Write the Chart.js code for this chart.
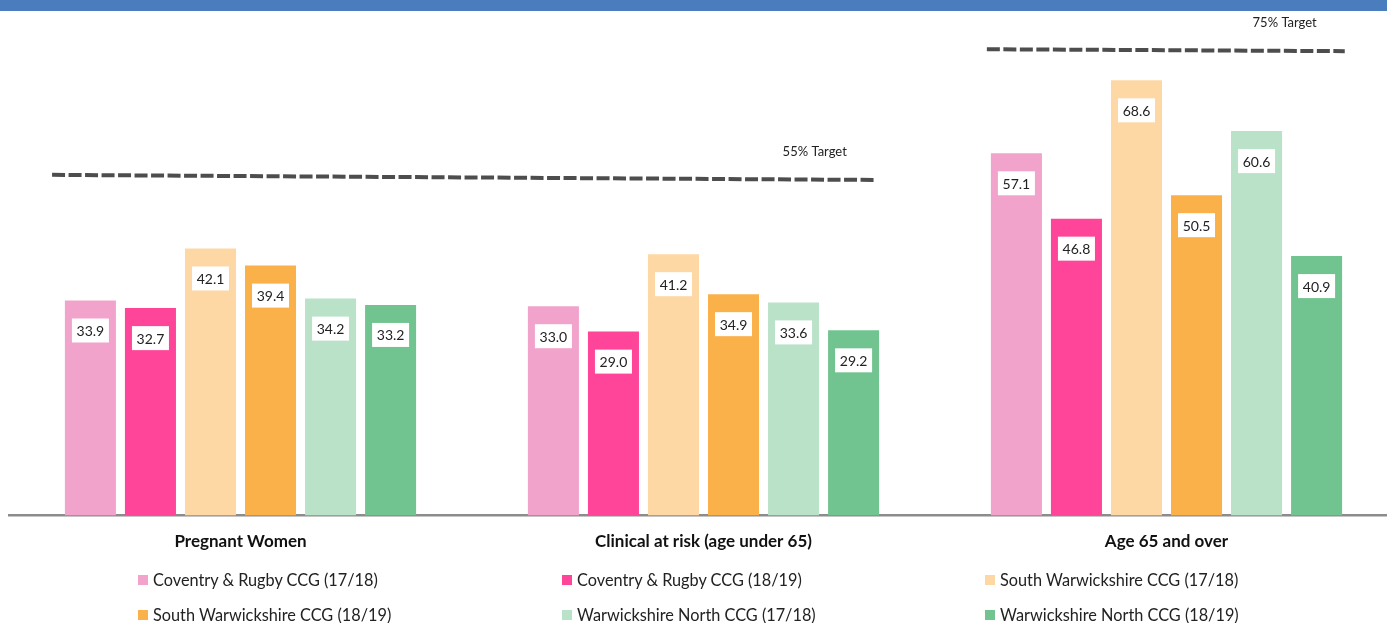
<html>
<head>
  <title>Flu vaccination uptake</title>
  <script src="https://cdn.jsdelivr.net/npm/chart.js"></script>
  <style>
    body { margin: 0; background: #fff; font-family: Lato, Arial; overflow: hidden; width: 1387px; height: 623px; position: relative; }
    #topbar { position: absolute; left: 0; top: 0; width: 1387px; height: 11px; background: #497dbe; }
    #wrap { position: absolute; left: 0; top: 0; width: 1398px; height: 568px; }
    #legend { position: absolute; left: 138px; top: 562px; display: grid; grid-template-columns: 424px 423px 400px; grid-auto-rows: 35px; }
    .item { display: flex; align-items: center; font-size: 16.3px; color: #222; white-space: nowrap; }
    .box { width: 10px; height: 10px; margin-right: 5px; }
  </style>
</head>
<body>
  <div id="wrap"><canvas id="Chart"></canvas></div>
  <div id="topbar"></div>
  <div id="legend"></div>

  <script>
// categories and series
const categories = ['Pregnant Women', 'Clinical at risk (age under 65)', 'Age 65 and over'];
const seriesNames = [
  'Coventry & Rugby CCG (17/18)',
  'Coventry & Rugby CCG (18/19)',
  'South Warwickshire CCG (17/18)',
  'South Warwickshire CCG (18/19)',
  'Warwickshire North CCG (17/18)',
  'Warwickshire North CCG (18/19)'
];
const coventry1718 = [33.9, 33.0, 57.1];
const coventry1819 = [32.7, 29.0, 46.8];
const southWarks1718 = [42.1, 41.2, 68.6];
const southWarks1819 = [39.4, 34.9, 50.5];
const warksNorth1718 = [34.2, 33.6, 60.6];
const warksNorth1819 = [33.2, 29.2, 40.9];
const seriesColors = ['#f2a3cb', '#fe4599', '#fdd8a4', '#fbb14a', '#bae2c9', '#71c48f'];

// target lines as drawn (x in category index units, y in %)
const targetLabels = ['55% Target', '75% Target'];
const target55 = [{ x: -0.407, y: 53.7 }, { x: 1.370, y: 52.9 }];
const target75 = [{ x: 1.612, y: 73.5 }, { x: 2.385, y: 73.2 }];

const seriesValues = [coventry1718, coventry1819, southWarks1718, southWarks1819, warksNorth1718, warksNorth1819];

const data = {
  labels: categories,
  datasets: seriesValues.map((vals, i) => ({
    label: seriesNames[i],
    data: vals,
    backgroundColor: seriesColors[i],
    borderWidth: 0,
    categoryPercentage: 0.778,
    barPercentage: 0.85
  }))
};

// dashed target lines, placed through the chart's x and y scales
const targetLines = {
  id: 'targetLines',
  afterDatasetsDraw(chart) {
    const { ctx, scales: { x, y } } = chart;
    ctx.save();
    [target55, target75].forEach((pts, k) => {
      ctx.beginPath();
      ctx.setLineDash([13, 3.5]);
      ctx.lineWidth = 4;
      ctx.strokeStyle = '#4d4d4d';
      pts.forEach((p, n) => {
        const px = x.getPixelForValue(p.x), py = y.getPixelForValue(p.y);
        if (n === 0) ctx.moveTo(px, py); else ctx.lineTo(px, py);
      });
      ctx.stroke();
      const end = pts[pts.length - 1];
      ctx.setLineDash([]);
      ctx.fillStyle = '#222';
      ctx.font = '13px Lato';
      ctx.textAlign = 'right';
      ctx.textBaseline = 'middle';
      ctx.fillText(targetLabels[k], x.getPixelForValue(end.x) - 28, y.getPixelForValue(end.y) - 28);
    });
    ctx.restore();
  }
};

const valueLabels = {
  id: 'valueLabels',
  afterDatasetsDraw(chart) {
    const ctx = chart.ctx;
    ctx.save();
    ctx.textBaseline = 'middle';
    ctx.font = '14px Lato';
    ctx.textAlign = 'center';
    chart.data.datasets.forEach((ds, i) => {
      chart.getDatasetMeta(i).data.forEach((bar, j) => {
        const yy = bar.y + 30;
        ctx.fillStyle = '#fff';
        ctx.fillRect(bar.x - 18.5, yy - 12, 37, 24);
        ctx.fillStyle = '#222';
        ctx.fillText(ds.data[j].toFixed(1), bar.x, yy + 1);
      });
    });
    ctx.restore();
  }
};

const config = {
  type: 'bar',
  data: data,
  options: {
    responsive: true,
    maintainAspectRatio: false,
    animation: false,
    layout: { padding: { left: 9, right: 0, top: 8, bottom: 0 } },
    plugins: { legend: { display: false }, tooltip: { enabled: false } },
    scales: {
      x: {
        grid: { display: false, drawTicks: false },
        border: { display: true, color: '#8c8c8c', width: 2.5 },
        ticks: { color: '#111', font: { family: 'Lato', size: 17, weight: 'bold' }, padding: 16, maxRotation: 0 }
      },
      y: {
        display: false,
        min: 0,
        max: 80
      }
    }
  },
  plugins: [valueLabels, targetLines]
};

let chart;
window.addEventListener('load', () => {
  const ctx = document.getElementById('Chart').getContext('2d');
  chart = new Chart(ctx, config);

  const legend = document.getElementById('legend');
  data.datasets.forEach(ds => {
    const item = document.createElement('div');
    item.className = 'item';
    const box = document.createElement('span');
    box.className = 'box';
    box.style.background = ds.backgroundColor;
    item.appendChild(box);
    item.appendChild(document.createTextNode(ds.label));
    legend.appendChild(item);
  });
});
  </script>
</body>
</html>
